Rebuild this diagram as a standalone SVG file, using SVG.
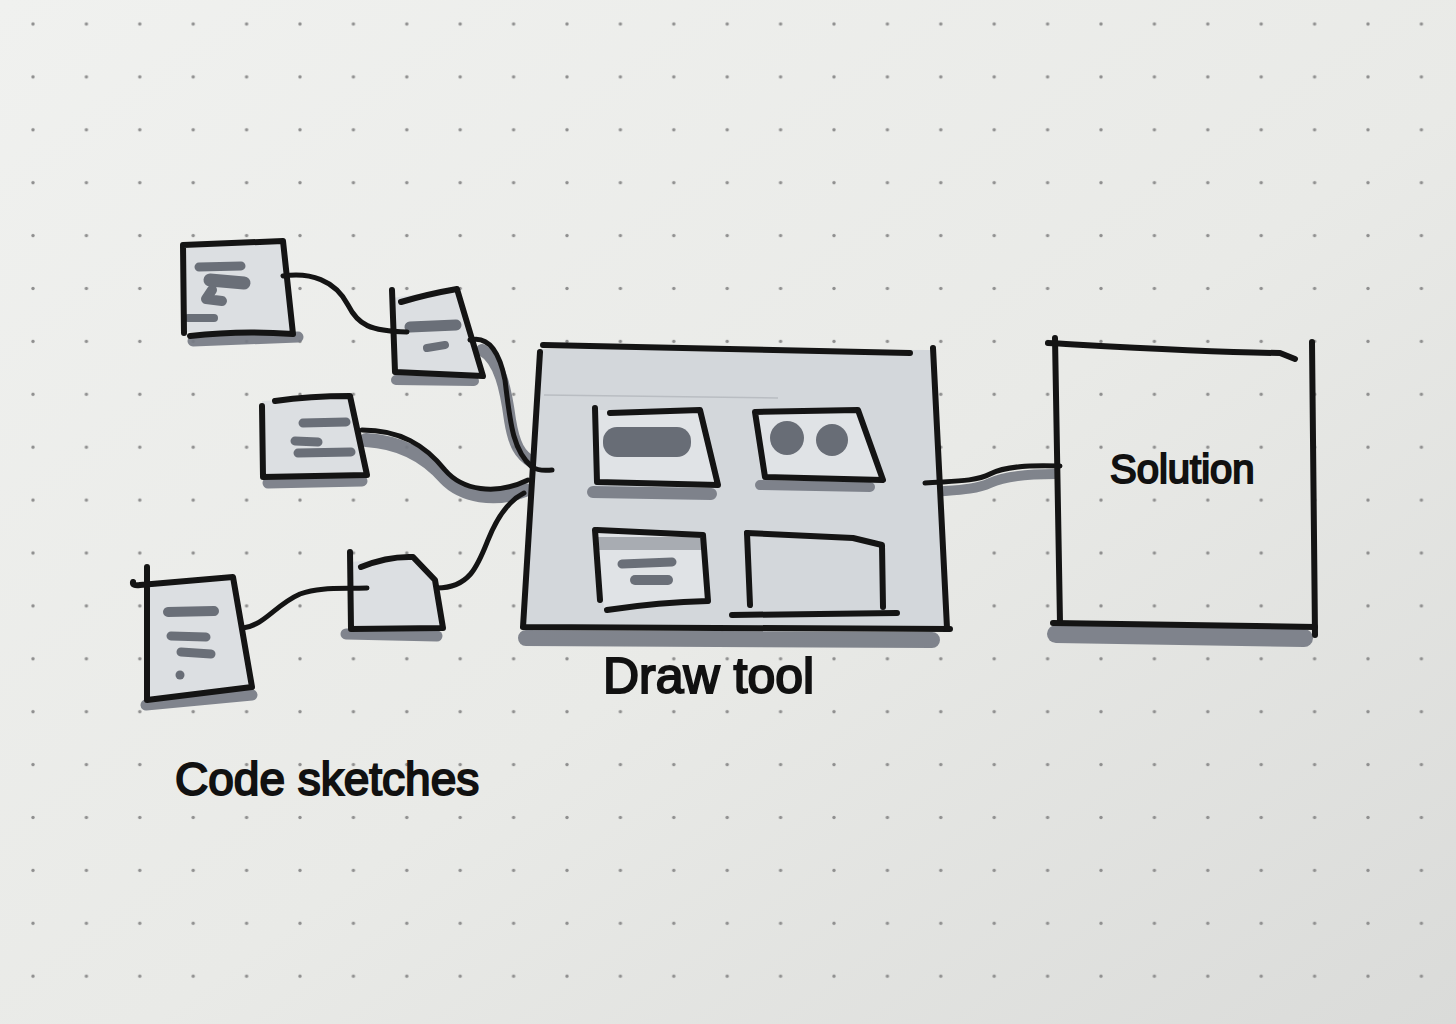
<svg xmlns="http://www.w3.org/2000/svg" width="1456" height="1024" viewBox="0 0 1456 1024">
  <defs>
    <pattern id="dots" patternUnits="userSpaceOnUse" x="6.3" y="-2.45" width="53.4" height="52.9">
      <circle cx="26.7" cy="26.45" r="1.7" fill="#8f8f8f"/>
    </pattern>
    <linearGradient id="paper" x1="0" y1="0" x2="1" y2="1">
      <stop offset="0" stop-color="#f0f1ef"/>
      <stop offset="0.55" stop-color="#e9eae7"/>
      <stop offset="1" stop-color="#dadbd9"/>
    </linearGradient>
  </defs>
  <style>
    .ink { fill: none; stroke: #141414; stroke-width: 6; stroke-linecap: round; stroke-linejoin: round; }
    .wire { fill: none; stroke: #141414; stroke-width: 5; stroke-linecap: round; stroke-linejoin: round; }
    .shadow { fill: none; stroke: #767b84; stroke-linecap: round; stroke-linejoin: round; opacity: 0.92; }
    .paperfill { fill: #dcdfe2; }
    .boxfill { fill: #d3d7db; }
    .innerfill { fill: #e0e3e6; }
    .mark { fill: none; stroke: #6a6f78; stroke-linecap: round; stroke-linejoin: round; }
    .blob { fill: #686d76; }
    .label { font-family: "Liberation Sans", Arial, sans-serif; fill: #111111; stroke: #111111; stroke-width: 2; }
  </style>

  <rect x="0" y="0" width="1456" height="1024" fill="url(#paper)"/>
  <rect x="0" y="0" width="1456" height="1024" fill="url(#dots)"/>

  <!-- connector shadows -->
  <g id="connector-shadows">
    <path class="shadow" stroke-width="12" d="M482,350 C500,360 506,390 510,420 C514,445 520,455 532,462"/>
    <path class="shadow" stroke-width="14" d="M366,440 C400,442 425,455 445,478 C462,496 495,502 525,490"/>
    <path class="shadow" stroke-width="10" d="M932,492 C955,490 975,490 990,483 C1005,476 1030,474 1055,474"/>
  </g>

  <!-- Code sketch 1 -->
  <g id="code-sketch-1">
    <path class="shadow" stroke-width="11" d="M193,341 L298,337"/>
    <polygon class="paperfill" points="184,244 283,241 293,334 186,332"/>
    <path class="mark" stroke-width="9" d="M199,267 L241,266"/>
    <path class="mark" stroke-width="13" d="M210,280 L244,283"/>
    <path class="mark" stroke-width="10" d="M212,290 L206,299 L222,301"/>
    <path class="mark" stroke-width="8" d="M188,318 L214,318"/>
    <path class="ink" d="M184,333 L183,245 L283,241 L293,334 Q240,330 190,336"/>
  </g>

  <!-- Code sketch 2 -->
  <g id="code-sketch-2">
    <path class="shadow" stroke-width="10" d="M396,380 L474,381"/>
    <polygon class="paperfill" points="393,298 457,288 482,375 395,372"/>
    <path class="mark" stroke-width="11" d="M410,327 L456,325"/>
    <path class="mark" stroke-width="8" d="M427,348 L445,345"/>
    <path class="ink" d="M392,290 L395,372 L483,376 L457,289 Q428,294 401,302"/>
  </g>

  <!-- Code sketch 3 -->
  <g id="code-sketch-3">
    <path class="shadow" stroke-width="11" d="M268,483 L362,481"/>
    <polygon class="paperfill" points="262,401 350,396 367,475 263,477"/>
    <path class="mark" stroke-width="9" d="M303,423 L346,422"/>
    <path class="mark" stroke-width="9" d="M295,441 L318,442"/>
    <path class="mark" stroke-width="9" d="M298,453 L351,452"/>
    <path class="ink" d="M262,406 L263,477 L367,475 L350,396 Q310,396 275,401"/>
  </g>

  <!-- Code sketch 4 -->
  <g id="code-sketch-4">
    <path class="shadow" stroke-width="11" d="M346,634 L437,636"/>
    <polygon class="paperfill" points="350,562 413,557 435,580 443,628 351,629"/>
    <path class="ink" d="M350,552 L351,629 L443,628 L435,580 L413,557 Q388,556 361,567"/>
  </g>

  <!-- Code sketch 5 -->
  <g id="code-sketch-5">
    <path class="shadow" stroke-width="11" d="M146,705 L252,695"/>
    <polygon class="paperfill" points="147,585 233,577 252,687 147,700"/>
    <path class="mark" stroke-width="10" d="M168,612 L214,611"/>
    <path class="mark" stroke-width="9" d="M171,636 L206,637"/>
    <path class="mark" stroke-width="9" d="M181,652 L211,654"/>
    <circle class="blob" cx="180" cy="675" r="4.5"/>
    <path class="ink" d="M147,567 L147,700 L252,687 L233,577 L140,585 Q132,586 133,582"/>
  </g>

  <!-- Draw tool -->
  <g id="draw-tool">
    <path class="shadow" stroke-width="16" d="M526,638 L932,640"/>
    <polygon class="boxfill" points="542,349 933,350 947,628 523,627"/>
    <path fill="none" stroke="#b9bdc2" stroke-width="1.5" d="M544,395 L778,398"/>
    <!-- inner A -->
    <path class="shadow" stroke-width="12" d="M593,492 L711,494"/>
    <polygon class="innerfill" points="596,410 700,410 718,485 597,482"/>
    <rect class="blob" x="603" y="427" width="88" height="30" rx="14"/>
    <path class="ink" d="M595,408 L597,482 L718,485 L700,410 L610,413"/>
    <!-- inner B -->
    <path class="shadow" stroke-width="10" d="M760,485 L870,487"/>
    <polygon class="innerfill" points="755,412 858,410 883,480 765,477"/>
    <circle class="blob" cx="787" cy="438" r="17"/>
    <circle class="blob" cx="832" cy="440" r="16"/>
    <path class="ink" d="M755,412 L858,410 L883,480 L765,477 Z"/>
    <!-- inner C -->
    <polygon class="innerfill" points="596,530 703,535 708,601 604,609"/>
    <rect x="598" y="537" width="105" height="13" fill="#a8acb2"/>
    <path class="mark" stroke-width="9" d="M622,564 L672,562"/>
    <path class="mark" stroke-width="10" d="M635,580 L668,580"/>
    <path class="ink" d="M595,530 L600,600"/>
    <path class="ink" d="M597,530 L703,535 L708,601 Q660,602 607,610"/>
    <!-- inner D -->
    <path class="ink" d="M747,533 L750,605"/>
    <path class="ink" d="M747,533 L853,538 L882,545 L883,607"/>
    <path class="ink" d="M732,615 L897,613"/>
    <!-- outline -->
    <path class="ink" d="M543,345 L910,353"/>
    <path class="ink" d="M540,352 L523,627 L950,629"/>
    <path class="ink" d="M933,348 L947,628"/>
    <text class="label" x="603" y="693" font-size="50">Draw tool</text>
  </g>

  <!-- Solution -->
  <g id="solution">
    <path class="shadow" stroke-width="18" d="M1056,634 L1304,638"/>
    <path class="ink" d="M1055,338 L1060,623"/>
    <path class="ink" d="M1048,343 C1120,347 1200,352 1280,353 L1295,359"/>
    <path class="ink" d="M1312,342 L1315,635"/>
    <path class="ink" d="M1053,623 L1315,627"/>
    <text class="label" x="1110" y="483" font-size="40">Solution</text>
  </g>

  <!-- connectors -->
  <g id="connectors">
    <path class="wire" d="M283,276 C310,272 335,280 348,305 C358,325 370,331 407,332"/>
    <path class="wire" d="M470,340 C490,335 500,355 505,380 C510,420 512,450 532,467 C540,472 548,470 552,470"/>
    <path class="wire" d="M362,430 C400,430 425,445 445,470 C462,490 495,496 528,480"/>
    <path class="wire" d="M437,588 C470,588 478,565 488,540 C498,515 510,500 524,493"/>
    <path class="wire" d="M243,628 C265,625 275,605 300,594 C320,587 340,589 367,588"/>
    <path class="wire" d="M925,483 C950,481 975,482 990,474 C1005,466 1030,465 1060,466"/>
  </g>

  <!-- group label -->
  <g id="label-code-sketches">
    <text class="label" x="175" y="795" font-size="46">Code sketches</text>
  </g>
</svg>
